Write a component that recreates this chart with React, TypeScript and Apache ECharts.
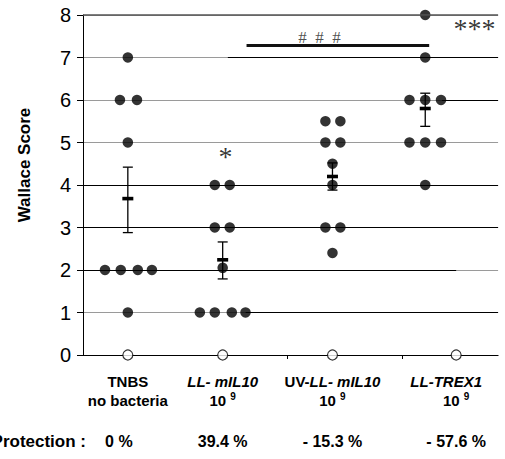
import React, { useEffect, useRef } from "react";
import * as echarts from "echarts";

// ---- data ----
const categories = ["TNBS", "LL- mIL10", "UV-LL- mIL10", "LL-TREX1"];
const protection = ["0 %", "39.4 %", "- 15.3 %", "- 57.6 %"];

// x positions on a 0..100 horizontal value scale
const groupCenters = [10.8, 33.65, 60.1, 82.45];
const zeroCircleX = [10.8, 33.65, 60.1, 89.9];
const labelX = [10.8, 33.65, 60.1, 89.9];
const tickX = [49.3, 76.9];

const tnbsScores = [7, 6, 6, 5, 2, 2, 2, 2, 1];
const tnbsJitter = [0, -1.9, 2.2, 0, -5.5, -1.7, 2.4, 5.8, 0];
const llScores = [4, 4, 3, 3, 2.05, 1, 1, 1, 1];
const llJitter = [-1.9, 1.7, -1.9, 1.7, 0, -5.5, -1.9, 2.2, 5.5];
const uvScores = [5.5, 5.5, 5, 5, 4.5, 4, 3, 3, 2.4];
const uvJitter = [-1.7, 1.9, -1.7, 1.9, 0, 0, -1.7, 1.9, 0];
const trexScores = [8, 7, 6, 6, 6, 5, 5, 5, 4];
const trexJitter = [0, 0, -3.8, 0, 3.8, -3.8, 0, 3.8, 0];

const means = [3.68, 2.24, 4.2, 5.8];
const lows = [2.88, 1.79, 3.88, 5.38];
const highs = [4.42, 2.66, 4.52, 6.16];

// y, x-start, x-end of dark grid segments
const darkSegments = [
  [7, 34.9, 100],
  [6, 86.5, 100],
  [4, 0, 100],
  [3, 0, 100],
  [2, 0, 89.9],
  [1, 39.2, 100],
];

const FONT = '"Liberation Sans", Arial, sans-serif';
const SERIF = '"Liberation Serif", "Times New Roman", serif';

export default function App() {
  const ref = useRef<HTMLDivElement>(null);

  useEffect(() => {
    const chart = echarts.init(ref.current!, null, { renderer: "svg" });

    const groups = [
      [tnbsScores, tnbsJitter],
      [llScores, llJitter],
      [uvScores, uvJitter],
      [trexScores, trexJitter],
    ];
    const dots: number[][] = [];
    groups.forEach(([scores, jit], g) => {
      scores.forEach((s, i) => dots.push([groupCenters[g] + jit[i], s]));
    });

    const labelText = [
      `{b|${categories[0]}}\n{b|no bacteria}\n{p0|${protection[0]}}`,
      `{bi|${categories[1]}}\n{b|10 }{sup|9}\n{p|${protection[1]}}`,
      `{b|UV-}{bi|LL- mIL10}\n{b|10 }{sup|9}\n{p|${protection[2]}}`,
      `{bit|${categories[3]}}\n{b|10 }{sup|9}\n{p|${protection[3]}}`,
    ];

    const option: any = {
      animation: false,
      backgroundColor: "#fff",
      grid: { left: 83, right: 6, top: 15, bottom: 104 },
      xAxis: {
        type: "value",
        min: 0,
        max: 100,
        axisLine: { show: true, onZero: false, lineStyle: { color: "#000", width: 1 } },
        axisTick: {
          show: true,
          customValues: tickX,
          length: 4,
          lineStyle: { color: "#000" },
        },
        splitLine: { show: false },
        axisLabel: {
          show: true,
          customValues: labelX,
          margin: 17,
          formatter: (v: number) => {
            let best = 0;
            labelX.forEach((lx, i) => {
              if (Math.abs(lx - v) < Math.abs(labelX[best] - v)) best = i;
            });
            return labelText[best];
          },
          rich: {
            b: { fontFamily: FONT, fontWeight: "bold", fontSize: 15, lineHeight: 19, color: "#000", align: "center" },
            bi: { fontFamily: FONT, fontWeight: "bold", fontStyle: "italic", fontSize: 15, lineHeight: 19, color: "#000", align: "center" },
            bit: { fontFamily: FONT, fontWeight: "bold", fontStyle: "italic", fontSize: 15, lineHeight: 19, color: "#000", align: "center", padding: [0, 20, 0, 0] },
            sup: { fontFamily: FONT, fontWeight: "bold", fontSize: 10, lineHeight: 19, color: "#000", align: "center", verticalAlign: "top", padding: [0, 0, 6, 0] },
            p: { fontFamily: FONT, fontWeight: "bold", fontSize: 16, lineHeight: 62, color: "#000", align: "center" },
            p0: { fontFamily: FONT, fontWeight: "bold", fontSize: 16, lineHeight: 62, color: "#000", align: "center", padding: [0, 18, 0, 0] },
          },
        },
      },
      yAxis: {
        type: "value",
        min: 0,
        max: 8,
        interval: 1,
        name: "Wallace Score",
        nameLocation: "middle",
        nameGap: 50,
        nameRotate: 90,
        nameTextStyle: { fontFamily: FONT, fontWeight: "bold", fontSize: 17, color: "#000", padding: [0, 0, 0, 40] },
        axisLine: { show: true, lineStyle: { color: "#000", width: 1 } },
        axisTick: { show: true, length: 6, lineStyle: { color: "#000" } },
        axisLabel: { fontFamily: FONT, fontSize: 20, color: "#000", margin: 12 },
        splitLine: { show: true, lineStyle: { color: "#9a9a9a", width: 1 } },
      },
      graphic: [
        {
          type: "text",
          x: 86,
          y: 441,
          style: {
            text: "Protection :",
            fontFamily: FONT,
            fontWeight: "bold",
            fontSize: 17,
            fill: "#000",
            align: "right",
            verticalAlign: "middle",
            textAlign: "right",
            textVerticalAlign: "middle",
          },
        },
      ],
      series: [
        {
          type: "line",
          data: [],
          silent: true,
          markLine: {
            silent: true,
            symbol: ["none", "none"],
            label: { show: false },
            data: [
              ...darkSegments.map(([y, x0, x1]) => [
                { coord: [x0, y], lineStyle: { color: "#000", width: 1, type: "solid" } },
                { coord: [x1, y] },
              ]),
              [
                { coord: [0, 8], lineStyle: { color: "#555", width: 1.5, type: "solid" } },
                { coord: [100, 8] },
              ],
              [
                { coord: [39.4, 7.28], lineStyle: { color: "#111", width: 3, type: "solid" } },
                { coord: [83.4, 7.28] },
              ],
            ],
          },
        },
        {
          type: "custom",
          z: 3,
          encode: { x: 0, y: 1 },
          data: means.map((m, i) => [groupCenters[i], m, lows[i], highs[i]]),
          renderItem: (_p: any, api: any) => {
            const x = api.value(0);
            const pm = api.coord([x, api.value(1)]);
            const pl = api.coord([x, api.value(2)]);
            const ph = api.coord([x, api.value(3)]);
            const st = { stroke: "#000", lineWidth: 1.3 };
            return {
              type: "group",
              children: [
                { type: "line", shape: { x1: pl[0], y1: pl[1], x2: ph[0], y2: ph[1] }, style: st },
                { type: "line", shape: { x1: pl[0] - 5, y1: pl[1], x2: pl[0] + 5, y2: pl[1] }, style: st },
                { type: "line", shape: { x1: ph[0] - 5, y1: ph[1], x2: ph[0] + 5, y2: ph[1] }, style: st },
                { type: "rect", shape: { x: pm[0] - 5.5, y: pm[1] - 1.8, width: 11, height: 3.6 }, style: { fill: "#000" } },
              ],
            };
          },
        },
        {
          type: "scatter",
          z: 4,
          symbol: "circle",
          symbolSize: 10.5,
          itemStyle: { color: "#000" },
          data: dots,
        },
        {
          type: "scatter",
          z: 4,
          symbol: "circle",
          symbolSize: 10,
          itemStyle: { color: "#fff", borderColor: "#000", borderWidth: 1.2 },
          data: zeroCircleX.map((x) => [x, 0]),
        },
        {
          type: "scatter",
          z: 5,
          symbolSize: 0,
          silent: true,
          label: {
            show: true,
            position: "inside",
            formatter: (p: any) => p.name,
            fontFamily: SERIF,
            color: "#000",
          },
          data: [
            { name: "*", value: [34.3, 4.68], label: { fontSize: 28 } },
            { name: "#  #  #", value: [57.0, 7.48], label: { fontSize: 17, color: "#222" } },
            { name: "***", value: [94.3, 7.68], label: { fontSize: 28, letterSpacing: 2 } },
          ],
        },
      ],
    };

    chart.setOption(option);
    return () => chart.dispose();
  }, []);

  return (
    <div
      ref={ref}
      style={{ position: "absolute", left: 0, top: 0, width: 505, height: 459, background: "#fff" }}
    />
  );
}
